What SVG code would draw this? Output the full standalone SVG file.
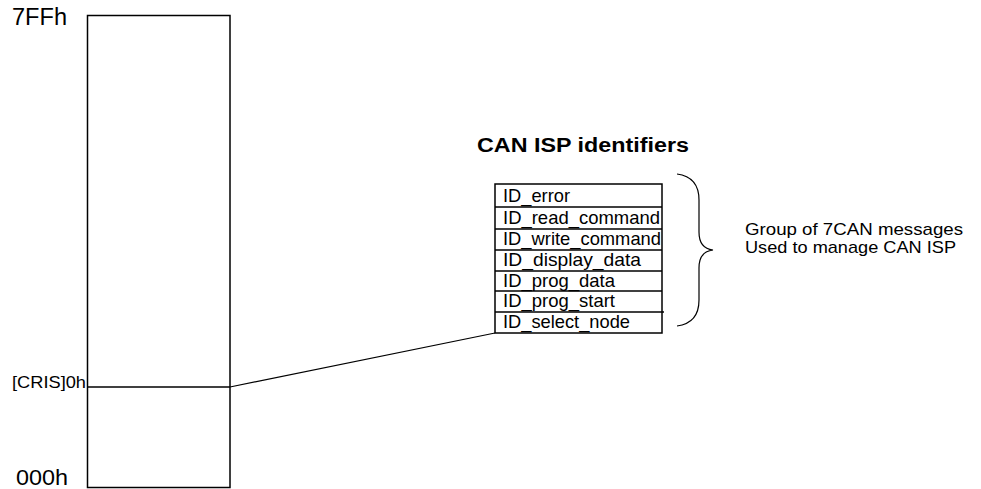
<svg xmlns="http://www.w3.org/2000/svg" width="981" height="489" viewBox="0 0 981 489">
<style>
text{font-family:"Liberation Sans",Arial,sans-serif;fill:#000}
.ln{stroke:#000;stroke-width:1.5;fill:none}
.row{font-size:18.5px}
</style>
<rect width="981" height="489" fill="#fff"/>
<g id="memory">
<rect class="ln" x="87.5" y="15.5" width="142.5" height="472"/>
<line class="ln" x1="87.5" y1="387" x2="230" y2="387"/>
<text x="12" y="25" font-size="23" textLength="55" lengthAdjust="spacingAndGlyphs">7FFh</text>
<text x="12" y="388" font-size="17" textLength="74" lengthAdjust="spacingAndGlyphs">[CRIS]0h</text>
<text x="16" y="485" font-size="22" textLength="52" lengthAdjust="spacingAndGlyphs">000h</text>
</g>
<g id="title">
<text x="477" y="152" font-size="20" font-weight="bold" textLength="212" lengthAdjust="spacingAndGlyphs">CAN ISP identifiers</text>
</g>
<g id="table">
<rect class="ln" x="495" y="184" width="167" height="149"/>
<line class="ln" x1="495" y1="207" x2="662" y2="207"/>
<line class="ln" x1="495" y1="229" x2="662" y2="229"/>
<line class="ln" x1="495" y1="250" x2="662" y2="250"/>
<line class="ln" x1="495" y1="271" x2="662" y2="271"/>
<line class="ln" x1="495" y1="291" x2="662" y2="291"/>
<line class="ln" x1="495" y1="312" x2="664" y2="312"/>
<text class="row" x="503" y="202" textLength="67" lengthAdjust="spacingAndGlyphs">ID_error</text>
<text class="row" x="503" y="224" textLength="157" lengthAdjust="spacingAndGlyphs">ID_read_command</text>
<text class="row" x="503" y="245" textLength="158" lengthAdjust="spacingAndGlyphs">ID_write_command</text>
<text class="row" x="503" y="266" textLength="138" lengthAdjust="spacingAndGlyphs">ID_display_data</text>
<text class="row" x="503" y="287" textLength="112" lengthAdjust="spacingAndGlyphs">ID_prog_data</text>
<text class="row" x="503" y="307" textLength="112" lengthAdjust="spacingAndGlyphs">ID_prog_start</text>
<text class="row" x="503" y="328" textLength="127" lengthAdjust="spacingAndGlyphs">ID_select_node</text>
</g>
<g id="brace">
<path d="M677,174 C692,176 699,185 699,200 L699,232 C699,244 704,249 713,250 C704,251 699,256 699,268 L699,300 C699,315 692,324 677,326" stroke="#000" stroke-width="1.2" fill="none"/>
<text x="745" y="235" font-size="17" textLength="218" lengthAdjust="spacingAndGlyphs">Group of 7CAN messages</text>
<text x="745" y="253" font-size="17" textLength="211" lengthAdjust="spacingAndGlyphs">Used to manage CAN ISP</text>
</g>
<g id="connectors">
<line x1="230" y1="387" x2="495" y2="333" stroke="#000" stroke-width="1.2"/>
</g>
</svg>
